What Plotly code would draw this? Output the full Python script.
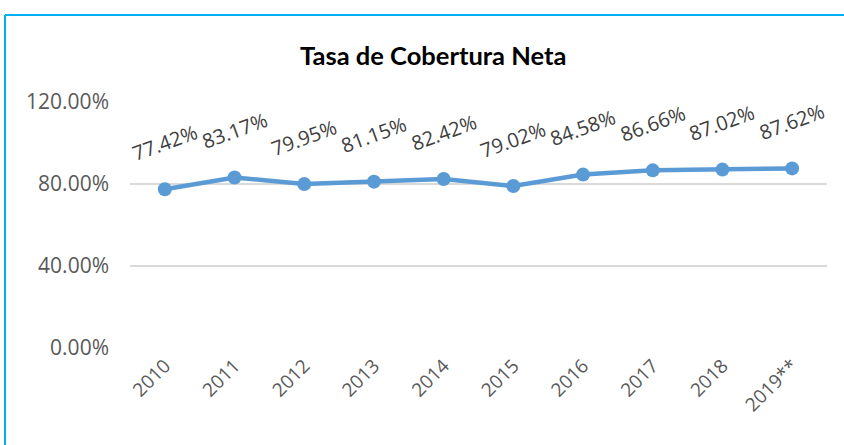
import plotly.graph_objects as go

years = ["2010", "2011", "2012", "2013", "2014", "2015", "2016", "2017", "2018", "2019**"]
coverage = [0.7742, 0.8317, 0.7995, 0.8115, 0.8242, 0.7902, 0.8458, 0.8666, 0.8702, 0.8762]
y_ticks = [0, 0.4, 0.8, 1.2]
title_text = "Tasa de Cobertura Neta"

line_color = "#5B9BD5"
text_color = "#595959"

fig = go.Figure()
fig.add_trace(go.Scatter(
    x=years, y=coverage, mode="lines+markers",
    line=dict(color=line_color, width=4.5),
    marker=dict(color=line_color, size=14),
    hoverinfo="skip", showlegend=False,
))

L, R, T, B = 130, 17, 102, 97
W, H = 844, 445
pw, ph = W - L - R, H - T - B
def px_x(p):
    return (p - L) / pw
def px_y(p):
    return (H - B - p) / ph

annotations = []
for i, v in enumerate(coverage):
    annotations.append(dict(
        x=i, y=v, xref="x", yref="y", text=f"{v:.2%}", showarrow=False,
        textangle=-20, yshift=47,
        font=dict(family="Open Sans", size=20, color="#404040"),
    ))
annotations.append(dict(
    x=px_x(433), y=px_y(55), xref="paper", yref="paper", xanchor="center", yanchor="middle",
    text=f"<b>{title_text}</b>", showarrow=False,
    font=dict(family="Lato", size=25.5, color="black"),
))

border = "#00B0F0"
shapes = [
    dict(type="line", xref="paper", yref="paper", x0=px_x(5), x1=px_x(846), y0=px_y(15), y1=px_y(15),
         line=dict(color=border, width=2)),
    dict(type="line", xref="paper", yref="paper", x0=px_x(5), x1=px_x(5), y0=px_y(15), y1=px_y(447),
         line=dict(color=border, width=2)),
]

fig.update_layout(
    width=W, height=H,
    margin=dict(l=L, r=R, t=T, b=B, autoexpand=False),
    paper_bgcolor="white", plot_bgcolor="white",
    annotations=annotations, shapes=shapes,
    xaxis=dict(
        type="category", range=[-0.5, len(years) - 0.5], tickangle=-45,
        showgrid=False, showline=False, ticks="", automargin=False,
        ticklabelstandoff=2,
        tickfont=dict(family="Open Sans", size=19, color=text_color),
    ),
    yaxis=dict(
        range=[0, 1.2], tickvals=y_ticks, tickformat=".2%", automargin=False,
        showgrid=True, gridcolor="#D9D9D9", gridwidth=1.5, zeroline=False,
        showline=False, ticks="", ticklen=0, ticklabelstandoff=20,
        tickfont=dict(family="Open Sans", size=21, color=text_color),
    ),
)

fig.write_html(
    "out.html",
    config={"displayModeBar": False},
    post_script="document.body.style.margin='0';document.body.style.overflow='hidden';",
)
